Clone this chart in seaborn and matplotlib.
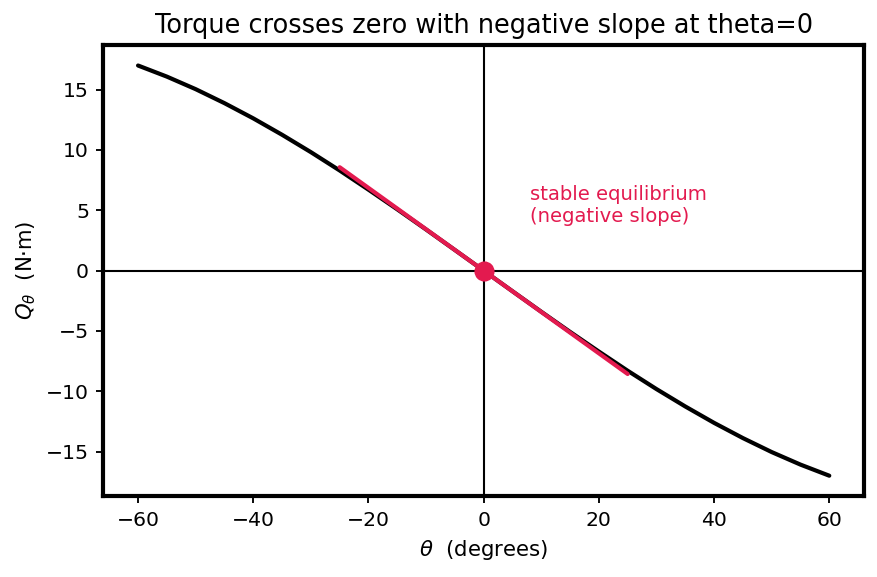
import numpy as np
import pandas as pd
import matplotlib
matplotlib.use("Agg")
import matplotlib.pyplot as plt
import seaborn as sns

theta_deg = [-60, -55, -50, -45, -40, -35, -30, -25, -20, -15, -10, -5, 0,
             5, 10, 15, 20, 25, 30, 35, 40, 45, 50, 55, 60]
torque = [17.00, 16.08, 15.04, 13.88, 12.62, 11.26, 9.82, 8.30, 6.71, 5.08, 3.41, 1.71, 0.0,
          -1.71, -3.41, -5.08, -6.71, -8.30, -9.82, -11.26, -12.62, -13.88, -15.04, -16.08, -17.00]
tangent_theta = [-25, 25]
tangent_q = [8.57, -8.57]
eq_theta = [0]
eq_q = [0]

sns.set_style("white")
plt.rcParams['font.family'] = ['DejaVu Sans']
plt.rcParams['text.color'] = 'black'
plt.rcParams['axes.labelcolor'] = 'black'
plt.rcParams['xtick.color'] = 'black'
plt.rcParams['ytick.color'] = 'black'
red = "#e31a4f"

fig, ax = plt.subplots(figsize=(877/150, 577/150), dpi=150)
ax.axhline(0, color="black", lw=1, zorder=1)
ax.axvline(0, color="black", lw=1, zorder=1)
sns.lineplot(x=theta_deg, y=torque, ax=ax, color="black", lw=2.0, zorder=2)
sns.lineplot(x=tangent_theta, y=tangent_q, ax=ax, color=red, lw=2.0, zorder=3)
sns.scatterplot(x=eq_theta, y=eq_q, ax=ax, color=red, s=80, edgecolor=red, zorder=4)
ax.text(8, 4, "stable equilibrium\n(negative slope)", color=red, fontsize=9.4)

ax.set_xlabel(r"$\theta$  (degrees)", fontsize=10.2)
ax.set_ylabel(r"$Q_\theta$  (N·m)", fontsize=10.2)
ax.set_title("Torque crosses zero with negative slope at theta=0", fontsize=12.3)
ax.tick_params(axis="both", labelsize=9.8, length=3.5, width=0.9, bottom=True, left=True)
ax.set_xticks([-60, -40, -20, 0, 20, 40, 60])
ax.set_yticks([-15, -10, -5, 0, 5, 10, 15])
for s in ax.spines.values():
    s.set_linewidth(2.0)
    s.set_color("black")
fig.subplots_adjust(left=0.118, right=0.985, top=0.922, bottom=0.14)
fig.savefig("out.png", dpi=150)
